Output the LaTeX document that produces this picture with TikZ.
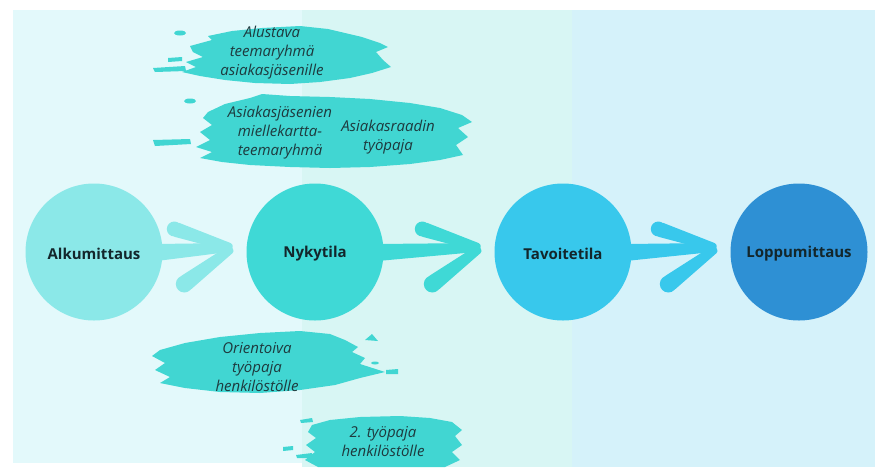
\documentclass[tikz,border=0pt]{standalone}
\usepackage{fontspec}
\setmainfont{Open Sans}
\usetikzlibrary{calc}

\definecolor{bandA}{HTML}{E3F9FB}
\definecolor{bandB}{HTML}{D8F6F4}
\definecolor{bandC}{HTML}{D5F2FA}
\definecolor{stageA}{HTML}{8BE8E8}
\definecolor{stageB}{HTML}{3FD9D6}
\definecolor{stageC}{HTML}{38C8EC}
\definecolor{stageD}{HTML}{2E90D4}
\definecolor{brush}{HTML}{41D6D2}
\definecolor{ink}{HTML}{13262B}
\definecolor{noteink}{HTML}{1E3A3E}

\pgfdeclarelayer{bg}
\pgfdeclarelayer{mid}
\pgfsetlayers{bg,mid,main}

% tapered brush stroke from #1 (wide end, half width #3) to #2 (narrow end, half width #4)
\newcommand\taper[5]{%
  \fill[#5, rounded corners=3pt] ($(#1)!#3!90:(#2)$) -- ($(#2)!#4!-90:(#1)$)
    -- ($(#2)!#4!90:(#1)$) -- ($(#1)!#3!-90:(#2)$) -- cycle;
  \fill[#5] (#1) circle (#3);
}

% brush-stroke arrow between two stage circles: #1 from, #2 to, #3 colour
\newcommand\brusharrow[3]{%
  \coordinate (tip#1) at ($(#2.west)+(-14,-4)$);
  \coordinate (base#1) at ($(#1.east)+(-6,0)$);
  \coordinate (up#1) at ($(tip#1)+(-58,-19)$);
  \coordinate (lo#1) at ($(tip#1)+(-48,36)$);
  \fill[#3] ($(base#1)+(0,-8)$) -- ($(tip#1)+(-4,-5)$) -- ($(tip#1)+(-4,4)$) -- ($(base#1)+(0,9)$) -- cycle;
  \taper{up#1}{tip#1}{7.5pt}{4pt}{#3}
  \taper{lo#1}{tip#1}{8.5pt}{4pt}{#3}
}

\begin{document}
\begin{tikzpicture}[x=1pt,y=-1pt,
  stage/.style={circle, inner sep=0pt, minimum size=137pt},
  stagelabel/.style={inner sep=0pt, font=\bfseries\fontsize{15}{18}\selectfont, text=ink},
  note/.style={align=center, inner sep=0pt, text=noteink,
    font=\itshape\fontsize{15}{19}\selectfont},
]
\useasboundingbox (0,0) rectangle (875,467);

\begin{pgfonlayer}{bg}
  \fill[white] (0,0) rectangle (875,467);
  \fill[bandA] (13,10) rectangle (302,463);
  \fill[bandB] (302,10) rectangle (572,467);
  \fill[bandC] (572,10) rectangle (875,467);
\end{pgfonlayer}

% stages
\node[stage, fill=stageA] (alku)  at (94,252)  {};
\node[stage, fill=stageB] (nyky)  at (315,252) {};
\node[stage, fill=stageC] (tavo)  at (563,252) {};
\node[stage, fill=stageD] (loppu) at (799,252) {};
\node[stagelabel] (alkutext)  at ($(alku.center)+(0,2)$)  {Alkumittaus};
\node[stagelabel] (nykytext)  at ($(nyky.center)+(0,2)$)  {Nykytila};
\node[stagelabel] (tavotext)  at ($(tavo.center)+(0,2)$)  {Tavoitetila};
\node[stagelabel] (lopputext) at ($(loppu.center)+(0,2)$) {Loppumittaus};

% notes
\node[note] (n1)  at (272,53)  {Alustava\\teemaryhmä\\asiakasjäsenille};
\node[note] (n2a) at (280,133) {Asiakasjäsenien\\miellekartta-\\teemaryhmä};
\node[note] (n2b) at (388,137) {Asiakasraadin\\työpaja};
\node[note] (n3)  at (257,367) {Orientoiva\\työpaja\\henkilöstölle};
\node[note] (n4)  at (383,442) {2. työpaja\\henkilöstölle};

\begin{pgfonlayer}{mid}
  % brush strokes behind the notes
  \fill[brush] (190,46) -- (212,40) -- (208,36) -- (232,31) -- (262,28) -- (300,26) -- (328,29)
    -- (345,33) -- (362,37) -- (380,43) -- (388,47) -- (376,52) -- (383,60) -- (391,67)
    -- (372,73) -- (350,78) -- (320,82) -- (290,84) -- (255,83) -- (225,80) -- (200,76)
    -- (182,72) -- (196,67) -- (186,62) -- (203,57) -- (193,52) -- cycle;
  \fill[brush] (180,33) ellipse (6 and 2.5);
  \fill[brush] (153,68) -- (185,66) -- (186,71) -- (155,72) -- cycle;
  \fill[brush] (168,58) -- (182,57) -- (182,61) -- (168,62) -- cycle;

  \fill[brush] (208,112) -- (225,104) -- (250,98) -- (262,94) -- (290,96) -- (330,97)
    -- (370,99) -- (410,103) -- (440,108) -- (462,115) -- (472,122) -- (458,128)
    -- (468,137) -- (456,145) -- (463,155) -- (440,160) -- (410,164) -- (370,167)
    -- (330,168) -- (290,167) -- (250,165) -- (222,162) -- (200,158) -- (212,152)
    -- (196,147) -- (210,140) -- (200,132) -- (212,125) -- (203,118) -- cycle;
  \fill[brush] (153,140) -- (190,139) -- (191,144) -- (155,146) -- cycle;
  \fill[brush] (190,101) ellipse (6 and 2.5);

  \fill[brush] (160,350) -- (185,343) -- (220,337) -- (260,333) -- (300,331) -- (330,334)
    -- (345,340) -- (358,347) -- (352,352) -- (365,358) -- (360,364) -- (385,372)
    -- (360,378) -- (335,385) -- (300,390) -- (260,393) -- (220,392) -- (185,388)
    -- (160,383) -- (170,377) -- (155,370) -- (165,363) -- (152,356) -- cycle;
  \fill[brush] (365,340) -- (372,334) -- (378,341) -- cycle;
  \fill[brush] (386,370) -- (398,369) -- (398,374) -- (386,374) -- cycle;
  \fill[brush] (375,363) ellipse (4 and 1.5);

  \fill[brush] (312,425) -- (330,420) -- (360,417) -- (400,416) -- (430,418) -- (452,422)
    -- (462,430) -- (455,436) -- (462,445) -- (452,452) -- (460,460) -- (445,467)
    -- (318,467) -- (305,460) -- (315,452) -- (306,445) -- (316,438) -- (308,432) -- cycle;
  \fill[brush] (300,420) -- (312,418) -- (313,422) -- (301,423) -- cycle;
  \fill[brush] (283,447) -- (293,446) -- (293,450) -- (283,451) -- cycle;
  \fill[brush] (296,455) -- (312,453) -- (312,458) -- (297,458) -- cycle;

  % arrows between stages
  \brusharrow{alku}{nyky}{stageA}
  \brusharrow{nyky}{tavo}{stageB}
  \brusharrow{tavo}{loppu}{stageC}
\end{pgfonlayer}
\end{tikzpicture}
\end{document}
